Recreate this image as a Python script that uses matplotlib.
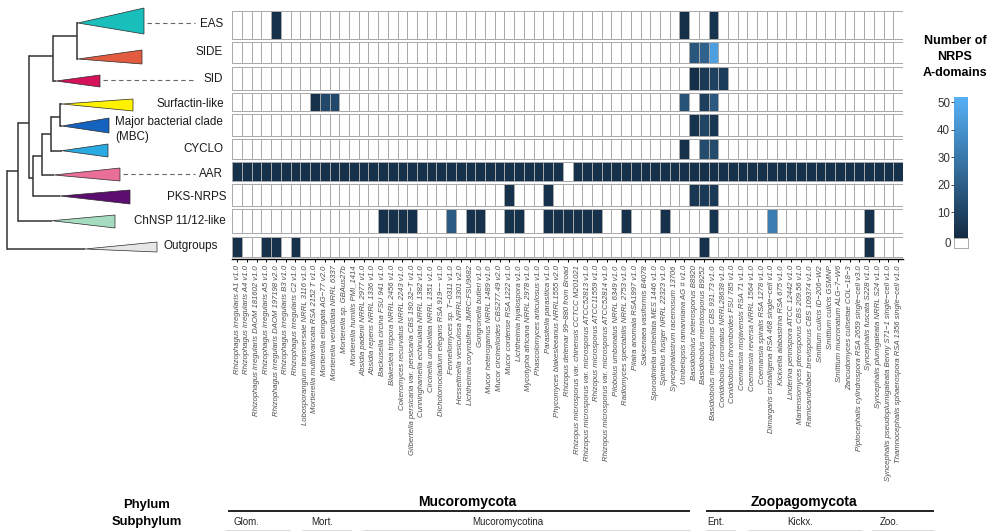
import numpy as np
import matplotlib
matplotlib.use("Agg")
import matplotlib.pyplot as plt
from matplotlib.colors import LinearSegmentedColormap, Normalize
from matplotlib.patches import Rectangle, Polygon
from matplotlib.cm import ScalarMappable
from matplotlib import font_manager as fm

# ---------------- data ----------------
species = [
    "Rhizophagus irregularis A1 v1.0", "Rhizophagus irregularis A4 v1.0",
    "Rhizophagus irregularis DAOM 181602 v1.0", "Rhizophagus irregularis A5 v1.0",
    "Rhizophagus irregularis DAOM 197198 v2.0", "Rhizophagus irregularis B3 v1.0",
    "Rhizophagus irregularis C2 v1.0", "Lobosporangium transversale NRRL 3116 v1.0",
    "Mortierella multidivaricata RSA 2152 T v1.0", "Mortierella elongata AG\u221277 v2.0",
    "Mortierella verticillata NRRL 6337", "Mortierella sp. GBAus27b",
    "Mortierella humilis PMI_1414", "Absidia padenii NRRL 2977 v1.0",
    "Absidia repens NRRL 1336 v1.0", "Backusella circina FSU 941 v1.0",
    "Blakeslea trispora NRRL 2456 v1.0", "Cokeromyces recurvatus NRRL 2243 v1.0",
    "Gilbertella persicaria var. persicaria CBS 190.32\u2212T v1.0",
    "Cunninghamella echinulata NRRL 1382 v1.0", "Circinella umbellata NRRL 1351 v1.0",
    "Dichotomocladium elegans RSA 919\u2212\u2212 v1.0", "Fennellomyces sp. T\u22120311 v1.0",
    "Hesseltinella vesiculosa NRRL3301 v2.0", "Lichtheimia corymbifera JMRC:FSU9682",
    "Gongronella butleri v1.0", "Mucor heterogamus NRRL 1489 v1.0",
    "Mucor circinelloides CBS277.49 v2.0", "Mucor cordense RSA 1222 v1.0",
    "Lichtheimia hyalospora v1.0", "Mycotypha africana NRRL 2978 v1.0",
    "Phascolomyces articulosus v1.0", "Parasitella parasitica v1.0",
    "Phycomyces blakesleeanus NRRL1555 v2.0", "Rhizopus delemar 99\u2212880 from Broad",
    "Rhizopus microsporus var. chinensis CCTCC M201021",
    "Rhizopus microsporus var. microsporus ATCC52813 v1.0",
    "Rhizopus microsporus ATCC11559 v1.0",
    "Rhizopus microsporus var. microsporus ATCC52814 v1.0",
    "Pilobolus umbonatus NRRL 6349 v1.0", "Radiomyces spectabilis NRRL 2753 v1.0",
    "Pilaira anomala RSA1997 v1.0", "Saksenaea vasiformis B4078",
    "Sporodiniella umbellata MES 1446 v1.0", "Spinellus fusiger NRRL 22323 v1.0",
    "Syncephalastrum racemosum 13706", "Umbelopsis ramanniana AG # v1.0",
    "Basidiobolus heterosporus B8920", "Basidiobolus meristosporus B9252",
    "Basidiobolus meristosporus CBS 931.73 v1.0", "Conidiobolus coronatus NRRL28638 v1.0",
    "Conidiobolus thromboides FSU 785 v1.0", "Coemansia mojavensis RSA 71 v1.0",
    "Coemansia reversa NRRL 1564 v1.0", "Coemansia spiralis RSA 1278 v1.0",
    "Dimargaris cristalligena RSA 468 single\u2212cell v1.0",
    "Kickxella alabastrina RSA 675 v1.0", "Linderina pennispora ATCC 12442 v1.0",
    "Martensiomyces pterosporus CBS 209.56 v1.0",
    "Ramicandelaber brevisporus CBS 109374 v1.0", "Smittium culicis ID\u2212206\u2212W2",
    "Smittium culicis GSMNP", "Smittium mucronatum ALG\u22127\u2212W6",
    "Zancudomyces culisetae COL\u221218\u22123",
    "Piptocephalis cylindrospora RSA 2659 single\u2212cell v3.0",
    "Syncephalis fuscata S228 v1.0", "Syncephalis plumigaleata NRRL S24 v1.0",
    "Syncephalis pseudoplumigaleata Benny S71\u22121 single\u2212cell v1.0",
    "Thamnocephalis sphaerospora RSA 1356 single\u2212cell v1.0",
]
clades = ["EAS", "SIDE", "SID", "Surfactin-like", "Major bacterial clade\n(MBC)",
          "CYCLO", "AAR", "PKS-NRPS", "ChNSP 11/12-like", "Outgroups"]
clade_colors = ["#19bfbb", "#e35b3e", "#d5125a", "#fff200", "#1463bf",
                "#29aae1", "#ea6f98", "#5c0e70", "#a5dcbf", "#e6e6e6"]

# number of NRPS A-domains per clade: {species index: count}
eas = {4: 3, 46: 2, 49: 4}
side = {47: 17, 48: 22, 49: 45}
sid = {47: 2, 48: 6, 49: 9, 50: 7}
surfactin = {8: 3, 9: 12, 10: 12, 46: 16, 48: 8, 49: 18}
mbc = {47: 4, 48: 10, 49: 5}
cyclo = {46: 3, 48: 13, 49: 13}
aar = {i: 3 for i in range(69) if i != 34}
pks_nrps = {28: 3, 32: 3, 47: 5, 48: 6, 49: 6}
chnsp = {15: 3, 16: 3, 17: 3, 18: 3, 22: 19, 24: 3, 25: 3, 28: 4, 29: 3,
         32: 3, 33: 3, 34: 3, 35: 3, 36: 3, 37: 3, 40: 3, 44: 3, 49: 4,
         55: 32, 65: 3}
outgroups = {0: 3, 3: 3, 4: 3, 6: 3, 48: 3, 65: 3}
clade_counts = [eas, side, sid, surfactin, mbc, cyclo, aar, pks_nrps, chnsp, outgroups]

cbar_ticks = [10, 20, 30, 40, 50]

phyla = [("Mucoromycota", 228, 690), ("Zoopagomycota", 706, 934)]
subphyla = [("Glom.", 225, 290), ("Mort.", 302, 352), ("Mucoromycotina", 363, 690),
            ("Ent.", 706, 735), ("Kickx.", 748, 862), ("Zoo.", 872, 934)]

# ---------------- fonts ----------------
names = {f.name for f in fm.fontManager.ttflist}
SANS = "Liberation Sans" if "Liberation Sans" in names else "DejaVu Sans"
NARROW = "Liberation Sans Narrow" if "Liberation Sans Narrow" in names else None
plt.rcParams["font.family"] = [SANS, "DejaVu Sans"]

W, H = 990, 531
fig = plt.figure(figsize=(W / 100, H / 100), dpi=100)

def fx(px):
    return px / W

def fy(py):
    return 1 - py / H

# background axes in pixel coordinates (tree + annotations)
bg = fig.add_axes([0, 0, 1, 1])
bg.set_xlim(0, W)
bg.set_ylim(H, 0)
bg.axis("off")

# ---------------- heatmap ----------------
n = len(species)
counts = np.zeros((len(clades), n))
for r, d in enumerate(clade_counts):
    for c, v in d.items():
        counts[r, c] = v

cmap = LinearSegmentedColormap.from_list("ggblue", ["#132B43", "#56B1F7"])
norm = Normalize(vmin=0.55, vmax=52)

row_top = [11.0, 41.7, 66.7, 92.7, 114.3, 139.3, 162.0, 184.3, 209.3, 236.7]
row_bot = [39.0, 63.3, 90.0, 111.0, 136.0, 158.7, 181.0, 206.0, 232.7, 256.7]

hx0, hx1, hbot = 232.3, 903.0, 259.0
hm = fig.add_axes([fx(hx0), fy(hbot), fx(hx1 - hx0), hbot / H])
hm.set_xlim(0, n)
hm.set_ylim(hbot, 0)
hm.patch.set_alpha(0)
for r in range(len(clades)):
    for c in range(n):
        v = counts[r, c]
        fc = cmap(norm(v)) if v > 0 else "white"
        hm.add_patch(Rectangle((c, row_top[r]), 1, row_bot[r] - row_top[r],
                               facecolor=fc, edgecolor="#a8a8a8", linewidth=0.7))
for s in ["top", "right", "left"]:
    hm.spines[s].set_visible(False)
hm.spines["bottom"].set_linewidth(1.0)
hm.set_yticks([])
hm.set_xticks(np.arange(n) + 0.5)
hm.set_xticklabels(species, rotation=90, fontsize=5.6, style="italic",
                   color="#4d4d4d", family=[SANS, "DejaVu Sans"])
hm.tick_params(axis="x", length=2.5, width=0.7, pad=2, color="black")

# ---------------- colorbar ----------------
cax = fig.add_axes([fx(954), fy(238.3), fx(13.7), (238.3 - 96.7) / H])
sm = ScalarMappable(norm=norm, cmap=cmap)
cb = fig.colorbar(sm, cax=cax, ticks=cbar_ticks)
cb.outline.set_visible(False)
cax.yaxis.set_ticks_position("left")
cax.yaxis.set_label_position("left")
cax.tick_params(length=2, width=0.6, pad=0.8, labelsize=8.3, colors="#333333")
zax = fig.add_axes([fx(954), fy(248.3), fx(13.7), 10 / H])
zax.set_xticks([])
zax.set_yticks([])
for s in zax.spines.values():
    s.set_color("#aaaaaa")
    s.set_linewidth(0.7)
bg.text(951, 244, "0", ha="right", va="center", fontsize=8.3, color="#333333")
bg.text(955, 57, "Number of\nNRPS\nA-domains", ha="center", va="center",
        fontsize=9, fontweight="bold", linespacing=1.45)

# ---------------- tree ----------------
nodes = {  # name: (x, y, parent)
    "root": (7.3, 170.7, None),
    "n1": (17.7, 170.7, "root"),
    "n2": (29.3, 122.7, "n1"),
    "n3": (53.3, 56.0, "n2"),
    "n5": (77.3, 36.0, "n3"),
    "n4": (33.3, 178.3, "n2"),
    "n6": (42.3, 156.0, "n4"),
    "n7": (50.7, 134.0, "n6"),
    "n8": (60.0, 116.7, "n7"),
}
# leaf: parent, apex x, apex y, tip x, top y, bottom y
leaves = [
    ("n5", 78, 23, 144, 8, 34),
    ("n5", 78, 59, 142, 50, 64),
    ("n3", 56, 81, 100, 75, 87),
    ("n8", 62, 104, 133, 99, 111),
    ("n8", 62, 126, 109, 118, 133),
    ("n7", 62, 150.7, 108, 144, 157),
    ("n6", 54, 175, 120, 168, 181),
    ("n4", 60, 196, 130, 190, 204),
    ("n1", 52, 220.7, 115, 215, 228),
    ("root", 85, 249, 157, 242, 252),
]
lc = "#333333"
child_y = {k: [] for k in nodes}
for k, (x, y, p) in nodes.items():
    if p is not None:
        child_y[p].append(y)
        bg.plot([nodes[p][0], x], [y, y], color=lc, lw=1.1, solid_capstyle="butt")
for (p, ax_, ay, tx, ty0, ty1), col in zip(leaves, clade_colors):
    child_y[p].append(ay)
    bg.plot([nodes[p][0], ax_], [ay, ay], color=lc, lw=1.1, solid_capstyle="butt")
    bg.add_patch(Polygon([[ax_, ay], [tx, ty0], [tx, ty1]], closed=True,
                         facecolor=col, edgecolor="#2a2a2a", linewidth=0.5, zorder=3))
for k, ys in child_y.items():
    x = nodes[k][0]
    bg.plot([x, x], [min(ys), max(ys)], color=lc, lw=1.1, solid_capstyle="projecting")

# dashed connectors
for x0, y in [(147, 23), (103, 80), (123, 174)]:
    bg.plot([x0, 195], [y, y], color="#666666", lw=0.8, ls=(0, (4, 3)))

# clade labels
lab_pos = [(223, 24, "right"), (223, 52, "right"), (223, 79, "right"),
           (224, 104, "right"), (115, 129.5, "left"), (223, 149, "right"),
           (223, 174, "right"), (226, 197, "right"), (226, 220.5, "right"),
           (218, 246, "right")]
for (x, y, ha), name in zip(lab_pos, clades):
    bg.text(x, y, name, ha=ha, va="center", fontsize=8.4, color="#1a1a1a",
            linespacing=1.35)

# ---------------- taxonomy annotation ----------------
afam = [NARROW, SANS] if NARROW else [SANS]
big = 11.5 if NARROW else 10.0
hdr = 10.5 if NARROW else 9.4
small = 8.3 if NARROW else 7.0
bg.text(147, 505, "Phylum", ha="center", va="center", fontsize=hdr,
        fontweight="bold", family=afam)
bg.text(147, 522.5, "Subphylum", ha="center", va="center", fontsize=hdr,
        fontweight="bold", family=afam)
for name, x0, x1 in phyla:
    bg.plot([x0, x1], [511, 511], color="#222222", lw=1.4, solid_capstyle="butt")
    cx = (x0 + x1) / 2 + (8 if name == "Mucoromycota" else -16)
    bg.text(cx, 502, name, ha="center", va="center", fontsize=big,
            fontweight="bold", family=afam)
sub_cx = [246, 322, 508, 716, 800, 889]
for (name, x0, x1), cx in zip(subphyla, sub_cx):
    bg.plot([x0, x1], [530.5, 530.5], color="#444444", lw=1.0, solid_capstyle="butt")
    bg.text(cx, 522, name, ha="center", va="center", fontsize=small,
            family=afam, color="#222222")

fig.savefig("out.png", dpi=100)
